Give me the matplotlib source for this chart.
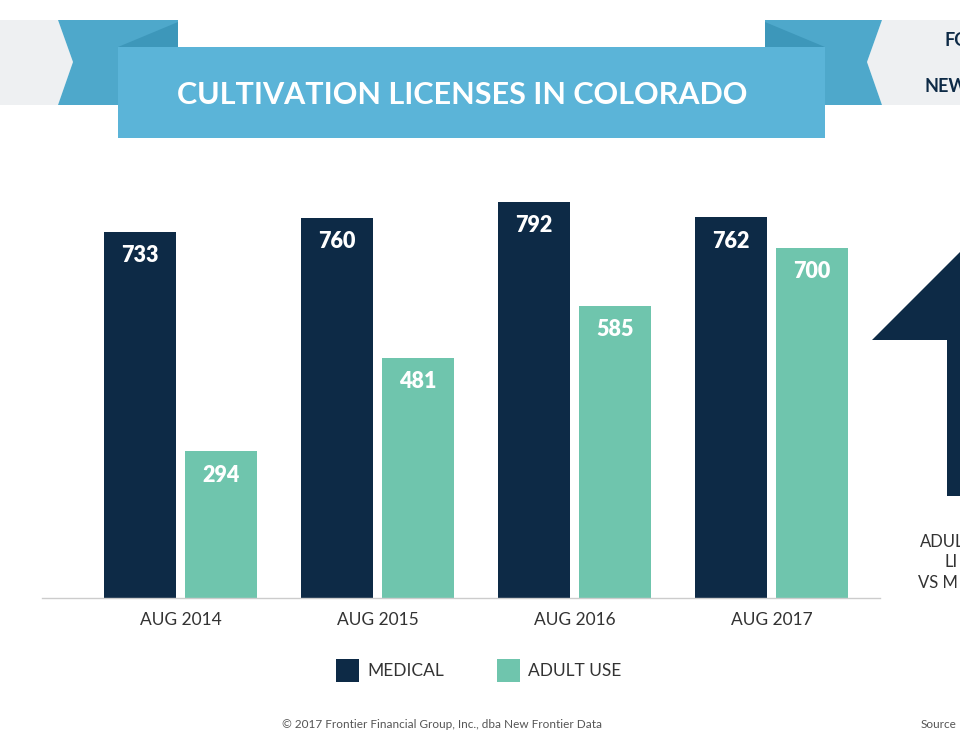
import matplotlib.pyplot as plt
from matplotlib.patches import Polygon, Rectangle

# Data
periods = ['AUG 2014', 'AUG 2015', 'AUG 2016', 'AUG 2017']
medical = [733, 760, 792, 762]
adult_use = [294, 481, 585, 700]

navy = '#0d2a46'
teal = '#6fc5ad'
banner = '#5bb4d8'
tail = '#4ea8cb'
fold = '#3d97ba'
light = '#eef0f2'

plt.rcParams['font.family'] = ['Lato', 'DejaVu Sans']

fig = plt.figure(figsize=(9.6, 7.5), dpi=100)

# Overlay in pixel coordinates for the infographic decorations
deco = fig.add_axes([0, 0, 1, 1])
deco.set_xlim(0, 960)
deco.set_ylim(750, 0)
deco.axis('off')

# left grey panel and ribbon tail
deco.add_patch(Polygon([(0, 20), (58, 20), (73, 62), (58, 105), (0, 105)], color=light, lw=0))
deco.add_patch(Polygon([(58, 20), (178, 20), (178, 105), (58, 105), (73, 62)], color=tail, lw=0))
deco.add_patch(Polygon([(118, 47), (178, 22), (178, 47)], color=fold, lw=0))
# right grey panel and ribbon tail
deco.add_patch(Polygon([(882, 20), (960, 20), (960, 105), (882, 105), (867, 62)], color=light, lw=0))
deco.add_patch(Polygon([(765, 20), (882, 20), (867, 62), (882, 105), (765, 105)], color=tail, lw=0))
deco.add_patch(Polygon([(765, 22), (825, 47), (765, 47)], color=fold, lw=0))
# title banner
deco.add_patch(Rectangle((118, 47), 707, 91, color=banner, lw=0))
deco.text(462, 95, 'CULTIVATION LICENSES IN COLORADO', color='white', fontsize=22,
          fontweight='bold', ha='center', va='center')
deco.text(944, 40, 'FO', color=navy, fontsize=13, fontweight='bold', ha='left', va='center')
deco.text(925, 87, 'NEW', color=navy, fontsize=13, fontweight='bold', ha='left', va='center')

# arrow on the right
deco.add_patch(Polygon([(872, 340), (960, 252), (960, 496), (947, 496), (947, 340)], color=navy, lw=0))
deco.text(920, 542, 'ADUL', color='#333333', fontsize=12, ha='left', va='center')
deco.text(945, 562, 'LI', color='#333333', fontsize=12, ha='left', va='center')
deco.text(918, 583, 'VS M', color='#333333', fontsize=12, ha='left', va='center')

# legend
deco.add_patch(Rectangle((336, 659), 23, 23, color=navy, lw=0))
deco.text(367, 671, 'MEDICAL', color='#333333', fontsize=12.5, ha='left', va='center')
deco.add_patch(Rectangle((497, 659), 23, 23, color=teal, lw=0))
deco.text(528, 671, 'ADULT USE', color='#333333', fontsize=12.5, ha='left', va='center')

# footer
deco.text(282, 724, '\u00a9 2017 Frontier Financial Group, Inc., dba New Frontier Data',
          color='#555555', fontsize=8.5, ha='left', va='center')
deco.text(921, 724, 'Source', color='#555555', fontsize=8.5, ha='left', va='center')

# Bar chart
ax = fig.add_axes([42 / 960, 152 / 750, 838 / 960, 400 / 750])
x = list(range(len(periods)))
w = 0.366
off = 0.206
b1 = ax.bar([i - off for i in x], medical, w, color=navy)
b2 = ax.bar([i + off for i in x], adult_use, w, color=teal)
for bars in (b1, b2):
    for b in bars:
        ax.text(b.get_x() + b.get_width() / 2, b.get_height() - 48, str(int(b.get_height())),
                color='white', fontsize=15.5, fontweight='heavy', ha='center', va='center')

ax.set_xlim(-0.703, 3.551)
ax.set_ylim(0, 800)
ax.set_xticks(x)
ax.set_xticklabels(periods, fontsize=12.5, color='#333333')
ax.tick_params(axis='x', length=0, pad=10)
ax.set_yticks([])
for s in ['top', 'right', 'left']:
    ax.spines[s].set_visible(False)
ax.spines['bottom'].set_color('#cccccc')
ax.spines['bottom'].set_linewidth(1)
ax.patch.set_alpha(0)

fig.savefig('out.png', dpi=100)
